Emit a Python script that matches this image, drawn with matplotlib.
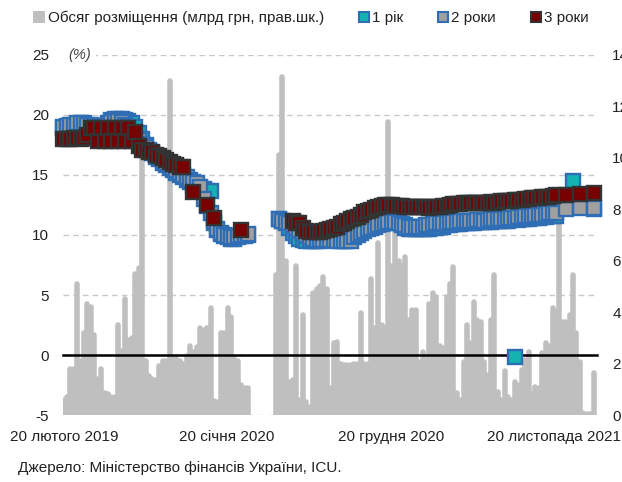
import numpy as np
import pandas as pd
import matplotlib
matplotlib.use("Agg")
import matplotlib.pyplot as plt
from matplotlib.lines import Line2D
from matplotlib.patches import Patch

plt.rcParams['font.family'] = ['Liberation Sans', 'DejaVu Sans']
plt.rcParams['axes.unicode_minus'] = False
nan = np.nan

# weekly auction dates (Tuesdays)
dates = pd.date_range("2019-02-19", periods=156, freq="7D")

# placement volume, bn UAH (right axis)
volume = [
    0.6, 0.7, 1.8, 1.8, 5.1, 2.1, 3.2, 4.3, 4.2, 3.1,
    1.4, 1.8, 0.85, 0.8, 0.7, 0.7, 3.5, 2.5, 4.5, 2.9,
    3.0, 5.5, 5.7, 10.3, 2.1, 1.5, 1.4, 1.35, 1.9, 2.1,
    2.1, 13.0, 2.2, 2.2, 2.1, 2.0, 2.3, 2.7, 2.45, 2.65,
    3.4, 3.3, 3.4, 4.15, 0.55, 0.5, 3.2, 3.2, 4.15, 3.8,
    2.2, 2.1, 1.15, 1.05, 1.05, nan, nan, nan, nan, nan,
    nan, nan, 5.45, 10.1, 13.15, 6.0, 1.3, 1.35, 5.8, 0.6,
    3.9, 0.5, 0.3, 4.75, 4.9, 5.0, 5.35, 4.9, 1.05, 2.8,
    2.85, 2.0, 1.95, 1.95, 1.95, 2.0, 2.0, 3.95, 2.0, 2.0,
    5.3, 3.4, 6.7, 3.5, 3.4, 11.4, 5.8, 7.65, 6.0, 5.8,
    6.15, 3.7, 4.1, 4.1, 2.05, 2.45, 2.15, 4.3, 4.75, 4.6,
    2.7, 2.6, 4.6, 5.1, 5.75, 0.85, 0.6, 2.05, 3.5, 2.8,
    4.4, 3.7, 3.6, 2.05, 1.55, 3.7, 5.45, 0.9, 0.6, 1.7,
    0.7, 0.6, 1.3, 1.15, 1.75, 2.15, 2.45, 0.8, 1.1, 1.05,
    2.4, 2.8, 2.7, 4.15, 4.0, 8.5, 3.6, 3.6, 3.9, 5.45,
    3.2, 2.05, 0.08, 0.05, 0.05, 1.65,
]

# yields, % (left axis)
yield_1y = [
    18.9, 19.0, 19.1, 19.1, 19.2, 19.2, 19.2, 19.1, 19.1, 19.0,
    19.0, 19.0, 19.1, 19.3, 19.6, 19.7, 19.7, 19.7, 19.6, 19.5,
    19.3, 19.0, 18.5, 18.0, 17.5, 17.1, 16.8, 16.5, 16.3, 16.0,
    15.8, 15.6, 15.4, 15.2, 15.0, 14.8, 14.6, 14.4, 14.2, 14.0,
    13.9, 13.8, 13.7, 13.7, 11.0, 10.4, 10.1, 9.9, 9.8, 9.7,
    9.7, 9.8, 9.9, 9.9, 10.0, nan, nan, nan, nan, nan,
    nan, nan, nan, 11.3, 11.2, 11.0, 10.6, 10.2, 9.9, 9.7,
    9.6, 9.5, 9.5, 9.5, 9.5, 9.5, 9.6, 9.6, 9.6, 9.7,
    9.8, 9.9, 10.0, 10.1, 10.2, 10.3, 10.4, 10.5, 10.6, 10.7,
    10.8, 10.9, 11.0, 11.1, 11.2, 11.3, 11.3, 11.2, 11.0, 10.8,
    10.6, 10.5, 10.5, 10.5, 10.5, 10.5, 10.5, 10.5, 10.6, 10.6,
    10.7, 10.7, 10.8, 10.8, 10.9, 10.9, 10.9, 11.0, 11.0, 11.0,
    11.0, 11.05, 11.05, 11.1, 11.1, 11.1, 11.15, 11.15, 11.2, 11.2,
    11.2, nan, -0.2, 11.25, 11.3, 11.3, 11.35, 11.4, 11.4, 11.45,
    11.5, 11.5, 11.55, 11.6, 11.6, nan, nan, nan, nan, 14.5,
    nan, nan, nan, nan, nan, 12.2,
]

yield_2y = [
    19.0, 19.1, 19.2, 19.2, 19.3, 19.3, 19.3, 19.2, 19.2, 19.1,
    19.0, 19.0, 19.0, 19.2, 19.4, 19.5, 19.5, 19.4, 19.2, 19.0,
    18.6, 18.2, 17.9, 17.6, 17.3, 17.0, 16.8, 16.6, 16.4, 16.2,
    16.0, 15.8, 15.6, 15.4, 15.2, 15.0, 14.8, 14.6, 14.4, 14.3,
    14.0, 13.0, 12.4, 11.8, 11.2, 10.5, 10.2, 10.0, 9.9, 9.8,
    9.8, 9.9, 10.0, 10.0, 10.1, nan, nan, nan, nan, nan,
    nan, nan, nan, 11.3, 11.2, 11.1, 11.0, 10.8, 10.6, 10.4,
    10.2, 10.0, 9.8, 9.7, 9.6, 9.6, 9.6, 9.6, 9.6, 9.55,
    9.5, 9.5, 9.5, 9.5, 9.5, 9.8, 10.0, 10.2, 10.35, 10.5,
    10.6, 10.7, 10.8, 10.9, 11.0, 11.1, 11.1, 11.1, 11.0, 10.9,
    10.8, 10.7, 10.7, 10.7, 10.7, 10.7, 10.8, 10.8, 10.9, 11.0,
    11.0, 11.0, 11.0, 11.1, 11.1, 11.1, 11.15, 11.2, 11.2, 11.2,
    11.2, 11.25, 11.25, 11.2, 11.25, 11.3, 11.3, 11.3, 11.3, 11.35,
    11.4, 11.4, 11.45, 11.5, 11.5, 11.55, 11.6, 11.6, 11.65, 11.7,
    11.7, 11.75, 11.8, 11.8, 11.85, nan, nan, 12.2, nan, nan,
    nan, 12.25, nan, nan, nan, 12.25,
]

yield_3y = [
    18.0, 18.0, 18.0, 18.1, 18.1, 18.0, 18.1, 18.3, 18.9, 18.9,
    17.8, 18.9, 17.8, 18.9, 17.8, 18.9, 17.8, 18.9, 17.8, 18.9,
    17.8, 18.6, 17.4, 17.1, 17.1, 16.95, 16.9, 16.7, 16.6, 16.4,
    16.25, 16.1, 15.9, 15.8, 15.7, 15.7, nan, nan, 13.6, nan,
    nan, nan, 12.5, nan, 11.4, nan, nan, nan, nan, nan,
    nan, nan, 10.4, nan, nan, nan, nan, nan, nan, nan,
    nan, nan, nan, nan, nan, nan, nan, 11.2, 11.0, 11.0,
    10.6, 10.3, 10.25, 10.25, 10.25, 10.25, 10.3, 10.4, 10.5, 10.6,
    10.7, 10.9, 11.0, 11.2, 11.3, 11.4, 11.5, 11.7, 11.9, 12.0,
    12.1, 12.25, 12.35, 12.4, 12.5, 12.5, 12.5, 12.45, 12.4, 12.4,
    12.35, 12.35, 12.3, 12.3, 12.3, 12.3, 12.3, 12.25, 12.3, 12.3,
    12.35, 12.4, 12.45, 12.5, 12.55, 12.6, 12.6, 12.65, 12.65, 12.65,
    12.7, 12.65, 12.7, 12.7, 12.7, 12.75, 12.7, 12.75, 12.8, 12.8,
    12.85, 12.85, 12.9, 12.9, 12.95, 13.0, 13.0, 13.05, 13.1, 13.1,
    13.15, 13.2, 13.2, 13.25, 13.3, nan, nan, 13.35, nan, nan,
    nan, 13.45, nan, nan, nan, 13.5,
]

tick_dates = pd.to_datetime(["2019-02-20", "2020-01-20", "2020-12-20", "2021-11-20"])
tick_labels = ["20 лютого 2019", "20 січня 2020", "20 грудня 2020", "20 листопада 2021"]

BAR = "#bfbfbf"
TEAL = "#12b3b1"
BLUE_EDGE = "#2f6db5"
GREY = "#a0a0a0"
RED = "#780000"
DARK = "#333333"
TXT = "#222222"
FS = 11

fig = plt.figure(figsize=(6.22, 4.82), dpi=100)
ax = fig.add_axes([0.1013, 0.139, 0.8585, 0.7469])
ax2 = ax.twinx()
ax3 = ax.twinx()

xmin = pd.Timestamp("2019-02-18")
xmax = pd.Timestamp("2022-02-15")

# base axis: gridlines + labels
ax.set_xlim(xmin, xmax)
ax.set_ylim(-5, 25)
ax.set_yticks(np.arange(-5, 26, 5))
ax.yaxis.grid(True, linestyle=(0, (4, 3)), color="#c8c8c8", linewidth=1)
ax.set_xticks(tick_dates)
ax.set_xticklabels(tick_labels)
ax.tick_params(axis="x", length=0, pad=11, labelsize=FS, labelcolor=TXT)
ax.tick_params(axis="y", length=0, pad=10, labelsize=FS, labelcolor=TXT)
for s in ax.spines.values():
    s.set_visible(False)
ax.text(0.009, 1.0, "(%)", transform=ax.transAxes, fontsize=10.5, style="italic",
        color="#444444", ha="left", va="center",
        bbox=dict(facecolor="white", edgecolor="none", pad=4))

# bars: placement volume on right axis
ax2.set_ylim(0, 14)
ax2.set_yticks(np.arange(0, 15, 2))
ax2.tick_params(axis="y", length=0, pad=11, labelsize=FS, labelcolor=TXT)
vl = ax2.vlines(dates, 0, volume, colors=BAR, linewidth=4.0)
vl.set_capstyle("round")
for s in ax2.spines.values():
    s.set_visible(False)

# yields
ax3.set_ylim(-5, 25)
ax3.set_yticks([])
for name, s in ax3.spines.items():
    s.set_visible(name == "bottom")
ax3.spines["bottom"].set_position(("data", 0))
ax3.spines["bottom"].set_linewidth(1.8)
ax3.spines["bottom"].set_color("black")
ax3.tick_params(axis="x", direction="out", length=4, width=1.5, color="black",
                labelbottom=False)

mk = dict(linestyle="none", marker="s", markersize=10, markeredgewidth=1.7,
          clip_on=False, zorder=3)
ax3.plot(dates, yield_1y, markerfacecolor=TEAL, markeredgecolor=BLUE_EDGE, **mk)
ax3.plot(dates, yield_2y, markerfacecolor=GREY, markeredgecolor=BLUE_EDGE, **mk)
ax3.plot(dates, yield_3y, markerfacecolor=RED, markeredgecolor=DARK, **mk)

# legend
lk = dict(linestyle="none", marker="s", markersize=7.5, markeredgewidth=1.5)
handles = [
    Patch(facecolor=BAR, edgecolor="none"),
    Line2D([], [], markerfacecolor=TEAL, markeredgecolor=BLUE_EDGE, **lk),
    Line2D([], [], markerfacecolor=GREY, markeredgecolor=BLUE_EDGE, **lk),
    Line2D([], [], markerfacecolor=RED, markeredgecolor=DARK, **lk),
]
labels = ["Обсяг розміщення (млрд грн, прав.шк.)", "1 рік", "2 роки", "3 роки"]
fig.legend(handles, labels, loc="center", bbox_to_anchor=(0.5, 1 - 18 / 482),
           ncol=4, frameon=False, fontsize=FS, handlelength=0.8, handleheight=0.8,
           handletextpad=0.15, columnspacing=2.2, labelcolor=TXT)

fig.text(18 / 622, 1 - 468 / 482, "Джерело: Міністерство фінансів України, ICU.",
         fontsize=FS, color=TXT, ha="left", va="center")

fig.savefig("out.png", dpi=100)
